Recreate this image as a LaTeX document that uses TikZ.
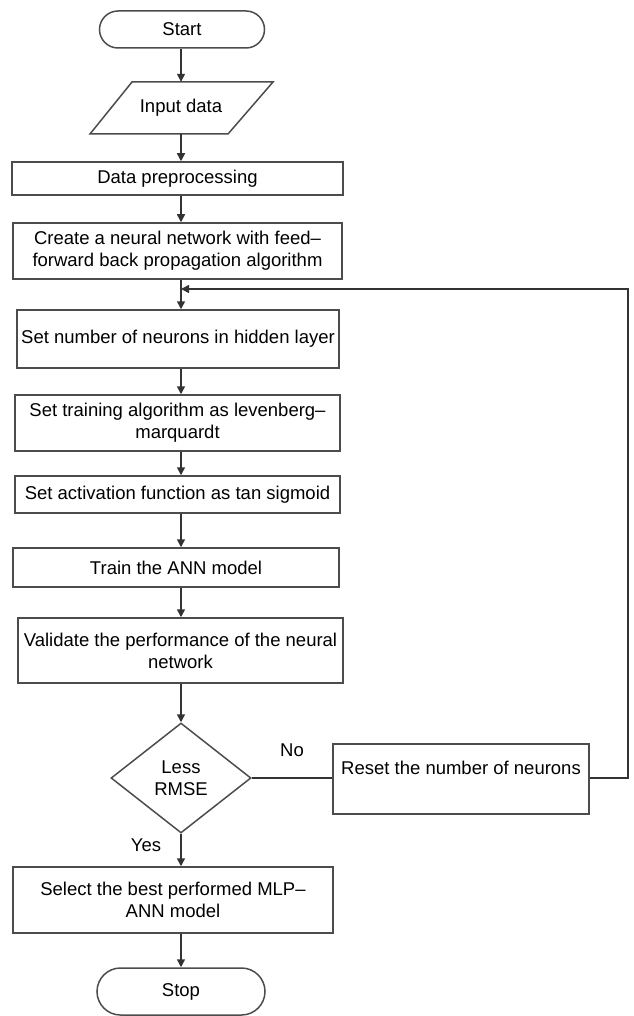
\documentclass[tikz,border=0pt]{standalone}
\usepackage{fontspec}
\setmainfont{Liberation Sans}
\usetikzlibrary{shapes.misc,shapes.geometric,arrows.meta}
\begin{document}
\begin{tikzpicture}[x=1pt,y=-1pt,
  every node/.style={font=\fontsize{18.5}{22}\selectfont, text=black, inner sep=0pt, align=center},
  boxs/.style={draw=black!70, line width=1.5pt, rectangle},
  term/.style={draw=black!70, line width=1.5pt, rounded rectangle},
  arr/.style={draw=black!80, line width=1.5pt, -{Triangle[length=8pt,width=8pt]}},
  ln/.style={draw=black!80, line width=1.5pt}]
\useasboundingbox (0,0) rectangle (633,1016);
\coordinate (spine) at (181,0);
\node[term, minimum width=165pt, minimum height=37pt] (start) at (182,29.5) {Start};
\node[minimum width=140pt, minimum height=52pt] (input) at (181,108) {Input data};
\draw[draw=black!70, line width=1.5pt] (132,82) -- (273,82) -- (228,134) -- (90,134) -- cycle;
\node[boxs, minimum width=331pt, minimum height=33pt] (prep) at (177.5,178.5) {Data preprocessing};
\node[boxs, minimum width=329pt, minimum height=56pt] (create) at (177.5,251) {Create a neural network with feed--\\forward back propagation algorithm};
\node[boxs, minimum width=322pt, minimum height=58pt] (setn) at (178,339) {Set number of neurons in hidden layer};
\node[boxs, minimum width=325pt, minimum height=56pt] (talg) at (177.5,423) {Set training algorithm as levenberg--\\marquardt};
\node[boxs, minimum width=325pt, minimum height=37pt] (act) at (177.5,494.5) {Set activation function as tan sigmoid};
\node[boxs, minimum width=326pt, minimum height=39pt] (tann) at (176,567.5) {Train the ANN model};
\node[boxs, minimum width=325pt, minimum height=65pt] (val) at (180.5,650.5) {Validate the performance of the neural\\network};
\node[diamond, draw=black!70, line width=1.5pt, minimum width=140pt, minimum height=110pt] (dec) at (181,778) {Less\\RMSE};
\node[boxs, minimum width=256pt, minimum height=70pt] (reset) at (461,779) {Reset the number of neurons\\\mbox{}};
\node[boxs, minimum width=320pt, minimum height=66pt] (sel) at (173,900) {Select the best performed MLP--\\ANN model};
\node[term, minimum width=168pt, minimum height=47pt] (stop) at (181,991.5) {Stop};
\coordinate (fb) at (181,289);
\node (no) at (292,750) {No};
\node (yes) at (146,845) {Yes};
\draw[arr] (start.south -| spine) -- (input.north -| spine);
\draw[arr] (input.south -| spine) -- (prep.north -| spine);
\draw[arr] (prep.south -| spine) -- (create.north -| spine);
\draw[arr] (create.south -| spine) -- (setn.north -| spine);
\draw[arr] (setn.south -| spine) -- (talg.north -| spine);
\draw[arr] (talg.south -| spine) -- (act.north -| spine);
\draw[arr] (act.south -| spine) -- (tann.north -| spine);
\draw[arr] (tann.south -| spine) -- (val.north -| spine);
\draw[arr] (val.south -| dec.north) -- (dec.north);
\draw[ln] (dec.east) -- (reset.west |- dec.east);
\draw[arr] (reset.east |- dec.east) -- (628,778) -- (628,289) -- (fb);
\draw[arr] (dec.south) -- (sel.north -| dec.south);
\draw[arr] (sel.south -| stop.north) -- (stop.north);
\end{tikzpicture}
\end{document}
